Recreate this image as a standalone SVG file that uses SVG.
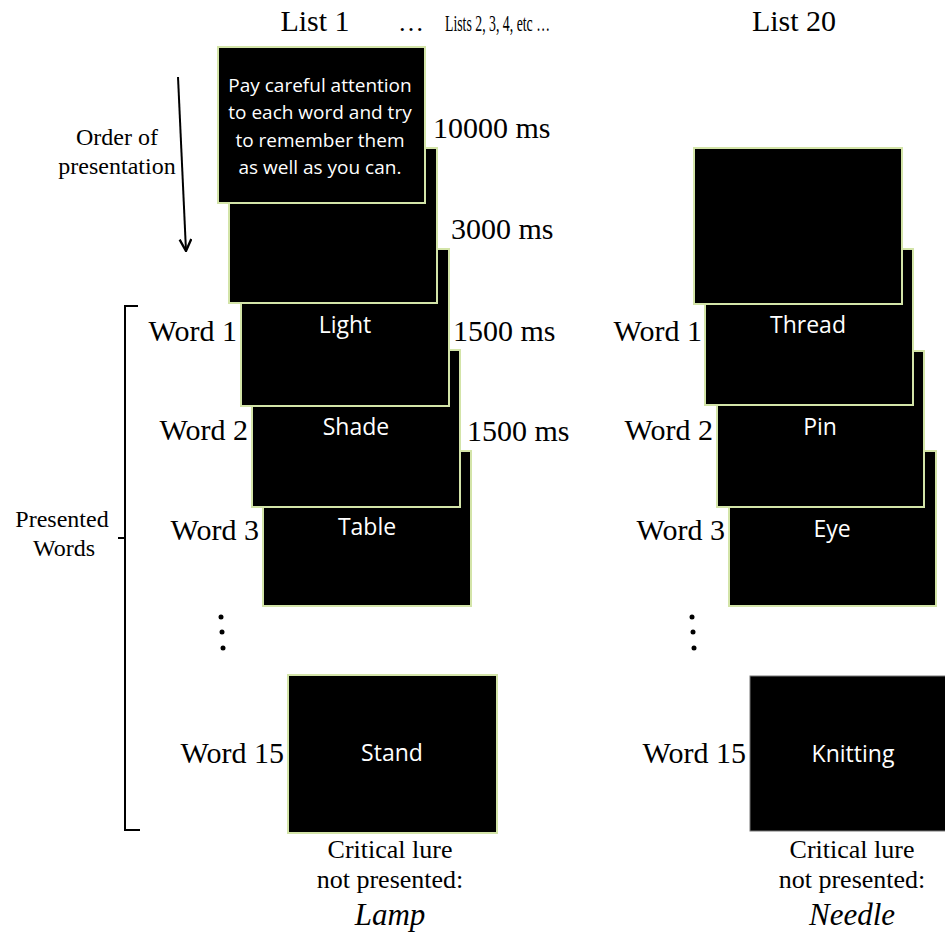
<svg xmlns="http://www.w3.org/2000/svg" width="945" height="932" viewBox="0 0 945 932">
<defs>
<style>
.scr{fill:#000;stroke:#d3e4a8;stroke-width:2}
.scr2{fill:#000;stroke:#777;stroke-width:1}
.w{font-family:"Open Sans","Noto Sans",sans-serif;font-size:23px;fill:#fff;text-anchor:middle}
.ins{font-family:"Open Sans","Noto Sans",sans-serif;font-size:19px;fill:#fff;text-anchor:middle}
.t{font-family:"Liberation Serif","Times New Roman",serif;font-size:30px;fill:#000}
.r{text-anchor:end}
.m{text-anchor:middle}
.s{font-family:"Liberation Serif","Times New Roman",serif;font-size:26px;fill:#000;text-anchor:middle}
.sm{font-family:"Liberation Serif","Times New Roman",serif;font-size:24px;fill:#000;text-anchor:middle}
.lure{font-size:31px;font-style:italic}
.ln{stroke:#000;stroke-width:2;fill:none}
</style>
<marker id="ah" viewBox="0 0 12 12" refX="11" refY="6" markerWidth="14" markerHeight="14" orient="auto" markerUnits="userSpaceOnUse">
<path d="M1,1 L11,6 L1,11" fill="none" stroke="#000" stroke-width="2"/>
</marker>
</defs>
<rect width="945" height="932" fill="#fff"/>

<g id="headers">
<text class="t m" x="315" y="31">List 1</text>
<text class="t" x="398" y="31" style="font-size:26px">…</text>
<text class="t" transform="translate(445,31) scale(0.6,1)" x="0" y="0" style="font-size:23px">Lists 2, 3, 4, etc …</text>
<text class="t m" x="794" y="31">List 20</text>
</g>

<g id="order-label">
<text class="sm" x="117" y="145">Order of</text>
<text class="sm" x="117" y="174">presentation</text>
</g>

<g id="presented-label">
<text class="sm" x="62" y="527">Presented</text>
<text class="sm" x="64" y="556">Words</text>
</g>

<g id="connectors">
<line class="ln" x1="178" y1="77" x2="186" y2="251" marker-end="url(#ah)"/>
<path class="ln" d="M138,306 H125 V830 H140"/>
<line class="ln" x1="118" y1="538" x2="125" y2="538"/>
</g>

<g id="list1">
<g id="l1-table"><rect class="scr" x="263" y="451" width="208" height="155"/><text class="w" x="367" y="535">Table</text></g>
<g id="l1-shade"><rect class="scr" x="252" y="350" width="208" height="157"/><text class="w" x="356" y="435">Shade</text></g>
<g id="l1-light"><rect class="scr" x="241" y="249" width="208" height="157"/><text class="w" x="345" y="333">Light</text></g>
<g id="l1-blank"><rect class="scr" x="229" y="148" width="208" height="155"/></g>
<g id="l1-instructions"><rect class="scr" x="218" y="47" width="207" height="156"/>
<text class="ins" x="320" y="92">Pay careful attention</text>
<text class="ins" x="320" y="119">to each word and try</text>
<text class="ins" x="320" y="147">to remember them</text>
<text class="ins" x="320" y="174">as well as you can.</text>
</g>
<g id="l1-stand"><rect class="scr" x="288" y="675" width="209" height="158"/><text class="w" x="392" y="761">Stand</text></g>
</g>

<g id="list20">
<g id="l20-eye"><rect class="scr" x="729" y="451" width="207" height="155"/><text class="w" x="832" y="537">Eye</text></g>
<g id="l20-pin"><rect class="scr" x="717" y="351" width="207" height="156"/><text class="w" x="820" y="435">Pin</text></g>
<g id="l20-thread"><rect class="scr" x="705" y="249" width="208" height="156"/><text class="w" x="808" y="333">Thread</text></g>
<g id="l20-blank"><rect class="scr" x="694" y="148" width="208" height="156"/></g>
<g id="l20-knitting"><rect class="scr2" x="750" y="676" width="210" height="155"/><text class="w" x="853" y="762">Knitting</text></g>
</g>

<g id="timings">
<text class="t" x="433" y="138">10000 ms</text>
<text class="t" x="451" y="239">3000 ms</text>
<text class="t" x="453" y="341">1500 ms</text>
<text class="t" x="467" y="441">1500 ms</text>
</g>

<g id="word-labels">
<text class="t r" x="237" y="341">Word 1</text>
<text class="t r" x="248" y="440">Word 2</text>
<text class="t r" x="259" y="540">Word 3</text>
<text class="t r" x="284" y="763">Word 15</text>
<text class="t r" x="702" y="341">Word 1</text>
<text class="t r" x="713" y="440">Word 2</text>
<text class="t r" x="725" y="540">Word 3</text>
<text class="t r" x="746" y="763">Word 15</text>
</g>

<g id="ellipsis-dots">
<circle cx="221" cy="617" r="2.5"/><circle cx="222" cy="632" r="2.5"/><circle cx="223" cy="648" r="2.5"/>
<circle cx="692" cy="617" r="2.5"/><circle cx="693" cy="632" r="2.5"/><circle cx="694" cy="648" r="2.5"/>
</g>

<g id="lures">
<text class="s" x="390" y="858">Critical lure</text>
<text class="s" x="390" y="888">not presented:</text>
<text class="s lure" x="390" y="925">Lamp</text>
<text class="s" x="852" y="858">Critical lure</text>
<text class="s" x="852" y="888">not presented:</text>
<text class="s lure" x="852" y="925">Needle</text>
</g>
</svg>
